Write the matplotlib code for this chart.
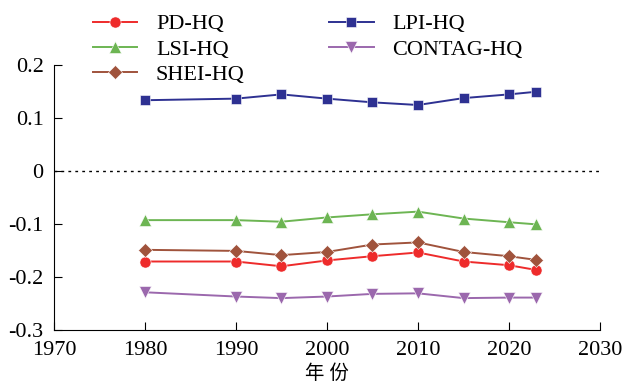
import matplotlib
matplotlib.use("Agg")
import matplotlib.pyplot as plt
from matplotlib.ticker import FuncFormatter

plt.rcParams["font.family"] = ["Liberation Serif", "Noto Sans CJK SC"]

# 年份与各指标相关系数
years = [1980, 1990, 1995, 2000, 2005, 2010, 2015, 2020, 2023]
pd_hq = [-0.171, -0.171, -0.180, -0.169, -0.161, -0.154, -0.171, -0.178, -0.187]
lsi_hq = [-0.093, -0.093, -0.096, -0.088, -0.082, -0.077, -0.090, -0.097, -0.101]
shei_hq = [-0.149, -0.151, -0.159, -0.153, -0.139, -0.135, -0.153, -0.161, -0.168]
lpi_hq = [0.133, 0.136, 0.144, 0.136, 0.129, 0.124, 0.137, 0.144, 0.149]
contag_hq = [-0.229, -0.237, -0.240, -0.237, -0.232, -0.231, -0.240, -0.239, -0.239]

fig = plt.figure(figsize=(6.27, 3.85), dpi=100)
ax = fig.add_axes([0.086, 0.143, 0.871, 0.689])

ax.axhline(0, color="black", linestyle=(0, (2, 3)), linewidth=1.0)

series = [
    (pd_hq, "PD-HQ", "#ee2b2b", "o", 8),
    (lsi_hq, "LSI-HQ", "#6db553", "^", 9),
    (shei_hq, "SHEI-HQ", "#a0533c", "D", 7),
    (lpi_hq, "LPI-HQ", "#2e3192", "s", 7.5),
    (contag_hq, "CONTAG-HQ", "#9b68ad", "v", 9),
]
handles = []
for vals, name, col, mk, ms in series:
    (h,) = ax.plot(years, vals, color=col, marker=mk, markersize=ms,
                   linewidth=1.4, label=name, markeredgecolor="white",
                   markeredgewidth=0.4)
    handles.append(h)

ax.set_xlim(1970, 2030)
ax.set_ylim(-0.3, 0.2)
ax.set_xticks(range(1970, 2031, 10))
ax.set_yticks([-0.3, -0.2, -0.1, 0, 0.1, 0.2])
ax.yaxis.set_major_formatter(
    FuncFormatter(lambda v, p: "0" if abs(v) < 1e-9 else f"{v:.1f}".replace("\u2212", "-")))
ax.spines["top"].set_visible(False)
ax.spines["right"].set_visible(False)
ax.tick_params(direction="in", length=6, labelsize=16)
ax.tick_params(axis="x", pad=8)
ax.tick_params(axis="y", pad=7.5)
ax.set_xlabel("年 份", fontsize=14, labelpad=3)

fig.legend(handles=handles, loc="upper left", bbox_to_anchor=(0.130, 0.993),
           ncol=2, frameon=False, fontsize=16, handlelength=2.0,
           handletextpad=0.85, columnspacing=3.8, labelspacing=0.22,
           borderpad=0)

fig.savefig("out.png", dpi=100)
